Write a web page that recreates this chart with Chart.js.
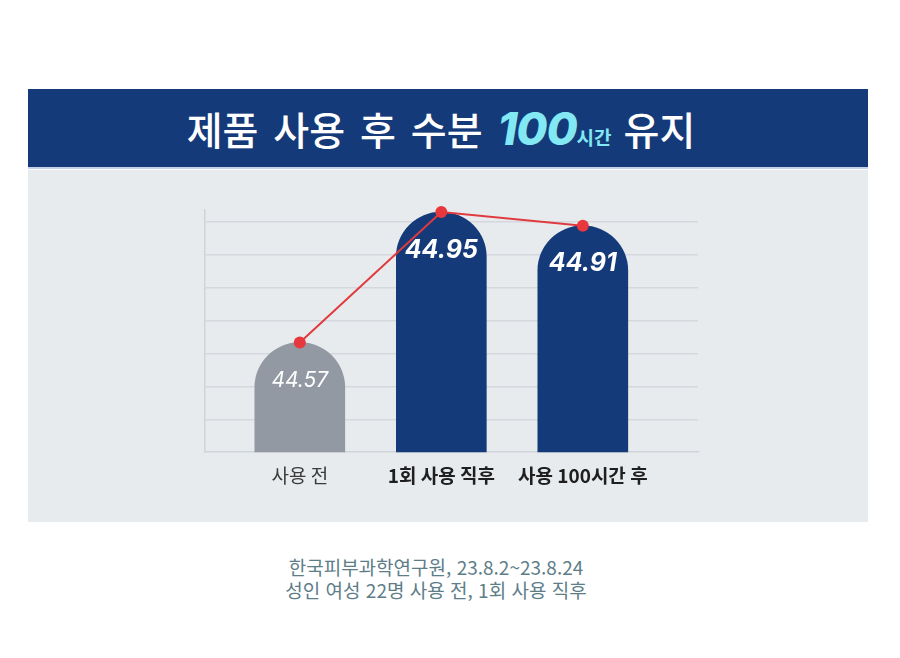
<!DOCTYPE html>
<html lang="ko">
<head>
<meta charset="utf-8">
<script src="https://cdn.jsdelivr.net/npm/chart.js@4"></script>
<style>
  body { margin: 0; width: 900px; height: 658px; background: #fff; position: relative; overflow: hidden;
         font-family: "Noto Sans CJK KR", "Noto Sans", sans-serif; }
  .banner { position: absolute; left: 28px; top: 89px; width: 840px; height: 80px; background: #153a79;
            border-bottom: 2px solid #c3d3ea; color: #fff; text-align: center; box-sizing: border-box; padding-right: 14px; }
  .banner h1 { margin: 0; font-weight: 500; font-size: 39px; line-height: 78px; word-spacing: 4px; }
  .banner .num { font-family: "Inter", sans-serif; font-style: italic; font-weight: 800; font-size: 45px; color: #82e8f4; letter-spacing: -1px; }
  .banner .unit { font-weight: 700; font-size: 19px; color: #82e8f4; margin-right: 12px; }
  .panel { position: absolute; left: 28px; top: 170px; width: 840px; height: 352px; background: #e8ebee; }
  .note { position: absolute; left: 186px; width: 500px; top: 555px; text-align: center; color: #5d7d88;
          font-size: 19px; line-height: 23px; }
  #wrap { position: absolute; left: 0; top: 0; width: 900px; height: 515px; }
</style>
</head>
<body>
<div class="banner"><h1>제품 사용 후 수분 <span class="num">100</span><span class="unit">시간</span>유지</h1></div>
<div class="panel"></div>
<div id="wrap"><canvas id="chart"></canvas></div>
<div class="note">한국피부과학연구원, 23.8.2~23.8.24<br>성인 여성 22명 사용 전, 1회 사용 직후</div>

<script>
// data
const categories = ['사용 전', '1회 사용 직후', '사용 100시간 후'];
const moisture = [44.57, 44.95, 44.91];
const barColors = ['#9299a2', '#153a79', '#153a79'];

const yMin = 44.251, yMax = 44.956;

// value labels inside the rounded bar tops
const valueLabels = {
  id: 'valueLabels',
  afterDatasetsDraw(chart) {
    const ctx = chart.ctx;
    const meta = chart.getDatasetMeta(1);
    ctx.save();
    ctx.textAlign = 'center';
    ctx.textBaseline = 'middle';
    ctx.fillStyle = '#fff';
    meta.data.forEach((bar, i) => {
      ctx.font = i === 0 ? 'italic 400 21px Inter, sans-serif' : 'italic 700 25px Inter, sans-serif';
      ctx.fillText(moisture[i].toFixed(2), bar.x, bar.y + 38);
    });
    ctx.restore();
  }
};

new Chart(document.getElementById('chart'), {
  data: {
    datasets: [
      {
        type: 'line',
        data: moisture.map((v, i) => ({ x: i, y: v })),
        borderColor: '#df3b3f',
        borderWidth: 2,
        pointRadius: 6,
        pointBackgroundColor: '#e6383d',
        pointBorderWidth: 0,
        tension: 0,
        clip: false,
        order: 0
      },
      {
        type: 'bar',
        data: moisture.map((v, i) => ({ x: i, y: v })),
        backgroundColor: barColors,
        barThickness: 90,
        borderRadius: { topLeft: 45, topRight: 45, bottomLeft: 0, bottomRight: 0 },
        borderSkipped: 'bottom',
        order: 1
      }
    ]
  },
  plugins: [valueLabels],
  options: {
    responsive: true,
    maintainAspectRatio: false,
    animation: false,
    layout: { padding: { left: 205, right: 202, top: 210, bottom: 16 } },
    plugins: { legend: { display: false }, tooltip: { enabled: false } },
    scales: {
      x: {
        type: 'linear',
        offset: false,
        min: -0.67,
        max: 2.814,
        afterBuildTicks: (axis) => { axis.ticks = categories.map((c, i) => ({ value: i })); },
        ticks: {
          padding: 12,
          color: (c) => c.index === 0 ? '#3a3a3a' : '#1f1f1f',
          font: (c) => ({ family: '"Noto Sans CJK KR", sans-serif', size: 19, weight: c.index === 0 ? '400' : '700' }),
          callback: (v) => categories[v]
        },
        grid: { display: false, drawTicks: false },
        border: { display: true, color: '#cfd4d9', width: 1.5 }
      },
      y: {
        min: yMin,
        max: yMax,
        afterBuildTicks: (axis) => {
          const step = (yMax - yMin) * 32.7 / 241;
          axis.ticks = [1, 2, 3, 4, 5, 6, 7].map(k => ({ value: yMin + k * step }));
        },
        ticks: { display: false },
        grid: { color: '#d4d8dd', lineWidth: 1.5, drawTicks: false },
        border: { display: true, color: '#d0d4d8', width: 1.5 }
      }
    }
  }
});
</script>
</body>
</html>
